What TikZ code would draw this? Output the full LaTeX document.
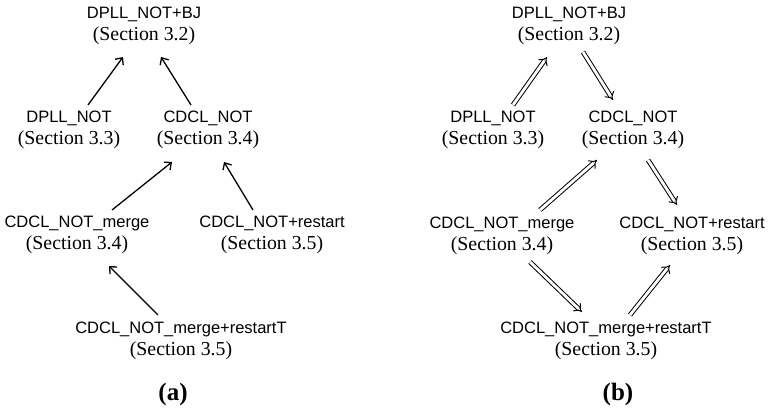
\documentclass[tikz,border=0pt]{standalone}
\usepackage{fontspec}
\setmainfont{Liberation Serif}
\newfontfamily\sansf{Liberation Sans}
\usetikzlibrary{arrows.meta,calc}
\tikzset{
  lbl/.style={align=center, inner sep=0pt, font=\fontsize{19.8}{22.5}\selectfont},
  figcap/.style={inner sep=0pt, font=\fontsize{25}{27}\selectfont\bfseries},
  sarr/.style={line width=1.3pt, -{Straight Barb[length=5.5pt,width=10pt]}},
  darr/.style={line width=1pt, double, double distance=2.8pt, -{Implies}},
}
\newcommand{\sline}[1]{{\fontsize{16.5}{22.5}\selectfont\sansf #1}}
\begin{document}
\begin{tikzpicture}[x=1pt,y=-1pt]
\useasboundingbox (0,0) rectangle (769,411);
% ---- (a)
\node[lbl] (bja) at (144,26) {\sline{DPLL\_NOT+BJ}\\(Section 3.2)};
\node[lbl] (dplla) at (69,130) {\sline{DPLL\_NOT}\\(Section 3.3)};
\node[lbl] (cdcla) at (208,130) {\sline{CDCL\_NOT}\\(Section 3.4)};
\node[lbl] (mergea) at (77,235) {\sline{CDCL\_NOT\_merge}\\(Section 3.4)};
\node[lbl] (restarta) at (272,235) {\sline{CDCL\_NOT+restart}\\(Section 3.5)};
\node[lbl] (rtta) at (181,341) {\sline{CDCL\_NOT\_merge+restartT}\\(Section 3.5)};
\node[figcap] (capa) at (173,394) {(a)};
\draw[sarr] ($(dplla)+(19,-25)$) -- ($(bja)+(-21,31)$);
\draw[sarr] ($(cdcla)+(-17,-25)$) -- ($(bja)+(17,31)$);
\draw[sarr] ($(mergea)+(35,-25)$) -- ($(cdcla)+(-36,32)$);
\draw[sarr] ($(restarta)+(-19,-25)$) -- ($(cdcla)+(16,32)$);
\draw[sarr] ($(rtta)+(-23,-26)$) -- ($(mergea)+(32,31)$);
% ---- (b)
\node[lbl] (bjb) at (569,26) {\sline{DPLL\_NOT+BJ}\\(Section 3.2)};
\node[lbl] (dpllb) at (493,130) {\sline{DPLL\_NOT}\\(Section 3.3)};
\node[lbl] (cdclb) at (633,130) {\sline{CDCL\_NOT}\\(Section 3.4)};
\node[lbl] (mergeb) at (502,236) {\sline{CDCL\_NOT\_merge}\\(Section 3.4)};
\node[lbl] (restartb) at (692,236) {\sline{CDCL\_NOT+restart}\\(Section 3.5)};
\node[lbl] (rttb) at (606,341) {\sline{CDCL\_NOT\_merge+restartT}\\(Section 3.5)};
\node[figcap] (capb) at (618,394) {(b)};
\draw[darr] ($(dpllb)+(20,-25)$) -- ($(bjb)+(-22,31)$);
\draw[darr] ($(bjb)+(14,26)$) -- ($(cdclb)+(-20,-30)$);
\draw[darr] ($(mergeb)+(38,-26)$) -- ($(cdclb)+(-36,30)$);
\draw[darr] ($(cdclb)+(15,30)$) -- ($(restartb)+(-15,-31)$);
\draw[darr] ($(mergeb)+(28,26)$) -- ($(rttb)+(-24,-29)$);
\draw[darr] ($(rttb)+(24,-26)$) -- ($(restartb)+(-22,29)$);
\end{tikzpicture}
\end{document}
